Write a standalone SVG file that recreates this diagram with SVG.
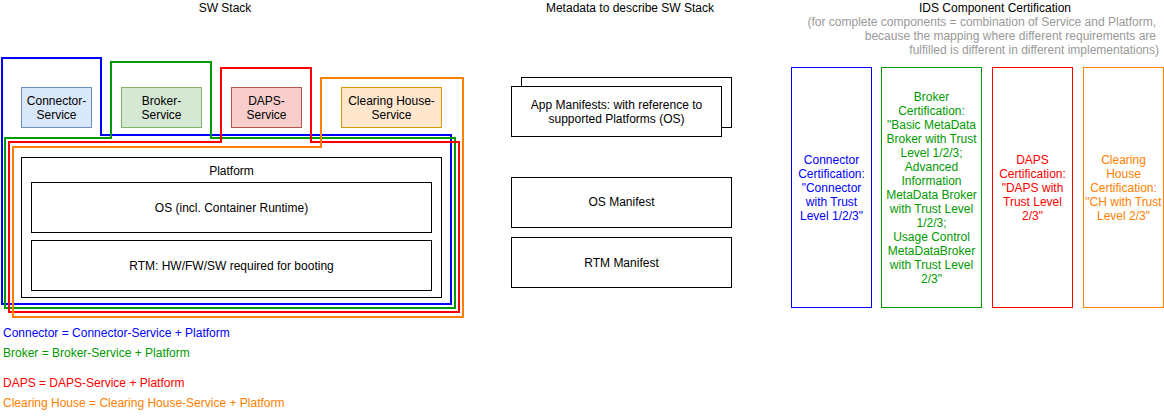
<svg xmlns="http://www.w3.org/2000/svg" width="1164" height="418" viewBox="0 0 1164 418">
<style>
text{font-family:"Liberation Sans",Arial,sans-serif;font-size:12px;fill:#000}
.c{text-anchor:middle}
.e{text-anchor:end}
.box{fill:#fff;stroke:#000;stroke-width:1}
.ol{fill:none;stroke-width:2;stroke-linejoin:miter}
.grey{fill:#999999}
.blue{fill:#0000FF}
.green{fill:#009900}
.red{fill:#FF0000}
.orange{fill:#FF8000}
.cert{fill:#fff;stroke-width:1}
</style>
<rect width="1164" height="418" fill="#fff"/>
<g id="titles">
<text class="c" x="225" y="12">SW Stack</text>
<text class="c" x="630" y="12">Metadata to describe SW Stack</text>
<text class="c" x="995" y="12">IDS Component Certification</text>
<text class="e grey" x="1156" y="26">(for complete components = combination of Service and Platform,</text>
<text class="e grey" x="1156" y="40">because the mapping where different requirements are</text>
<text class="e grey" x="1159" y="54">fulfilled is different in different implementations)</text>
</g>
<g id="connector-service">
<rect x="21.5" y="87.5" width="70" height="40" fill="#dae8fc" stroke="#6c8ebf"/>
<text class="c" x="56.5" y="105">Connector-</text>
<text class="c" x="56.5" y="119">Service</text>
</g>
<g id="broker-service">
<rect x="121.5" y="87.5" width="80" height="40" fill="#d5e8d4" stroke="#82b366"/>
<text class="c" x="161.5" y="105">Broker-</text>
<text class="c" x="161.5" y="119">Service</text>
</g>
<g id="daps-service">
<rect x="231.5" y="87.5" width="70" height="40" fill="#f8cecc" stroke="#b85450"/>
<text class="c" x="266.5" y="105">DAPS-</text>
<text class="c" x="266.5" y="119">Service</text>
</g>
<g id="ch-service">
<rect x="341.5" y="87.5" width="100" height="40" fill="#ffe6cc" stroke="#d79b00"/>
<text class="c" x="391.5" y="105">Clearing House-</text>
<text class="c" x="391.5" y="119">Service</text>
</g>
<g id="platform">
<rect class="box" x="21.5" y="157.5" width="420" height="140"/>
<text class="c" x="231.5" y="175">Platform</text>
</g>
<g id="os">
<rect class="box" x="31.5" y="182.5" width="400" height="50"/>
<text class="c" x="231.5" y="212">OS (incl. Container Runtime)</text>
</g>
<g id="rtm">
<rect class="box" x="31.5" y="240.5" width="400" height="50"/>
<text class="c" x="231.5" y="270">RTM: HW/FW/SW required for booting</text>
</g>
<g id="outlines">
<path id="connector-outline" class="ol" stroke="#0000FF" d="M2,58 L101,58 L101,135 L451,135 L451,304 L2,304 Z"/>
<path id="broker-outline" class="ol" stroke="#009900" d="M111,62 L211,62 L211,138 L455,138 L455,308 L5,308 L5,138 L111,138 Z"/>
<path id="daps-outline" class="ol" stroke="#FF0000" d="M221,68 L311,68 L311,142 L459,142 L459,312 L9,312 L9,142 L221,142 Z"/>
<path id="ch-outline" class="ol" stroke="#FF8000" d="M321,78 L463,78 L463,317 L13,317 L13,147 L321,147 Z"/>
</g>
<g id="app-manifests">
<rect class="box" x="521.5" y="77.5" width="210" height="50"/>
<rect class="box" x="511.5" y="86.5" width="210" height="50"/>
<text class="c" x="616.5" y="109">App Manifests: with reference to</text>
<text class="c" x="616.5" y="123">supported Platforms (OS)</text>
</g>
<g id="os-manifest">
<rect class="box" x="511.5" y="177.5" width="220" height="50"/>
<text class="c" x="621.5" y="206">OS Manifest</text>
</g>
<g id="rtm-manifest">
<rect class="box" x="511.5" y="237.5" width="220" height="50"/>
<text class="c" x="621.5" y="267">RTM Manifest</text>
</g>
<g id="connector-cert">
<rect class="cert" x="791.5" y="67.5" width="80" height="240" stroke="#0000FF"/>
<text class="c blue" x="831.5"><tspan x="831.5" y="164">Connector</tspan><tspan x="831.5" y="178">Certification:</tspan><tspan x="831.5" y="192">"Connector</tspan><tspan x="831.5" y="206">with Trust</tspan><tspan x="831.5" y="220">Level 1/2/3"</tspan></text>
</g>
<g id="broker-cert">
<rect class="cert" x="881.5" y="67.5" width="100" height="240" stroke="#009900"/>
<text class="c green" x="931.5"><tspan x="931.5" y="101">Broker</tspan><tspan x="931.5" y="115">Certification:</tspan><tspan x="931.5" y="129">"Basic MetaData</tspan><tspan x="931.5" y="143">Broker with Trust</tspan><tspan x="931.5" y="157">Level 1/2/3;</tspan><tspan x="931.5" y="171">Advanced</tspan><tspan x="931.5" y="185">Information</tspan><tspan x="931.5" y="199">MetaData Broker</tspan><tspan x="931.5" y="213">with Trust Level</tspan><tspan x="931.5" y="227">1/2/3;</tspan><tspan x="931.5" y="241">Usage Control</tspan><tspan x="931.5" y="255">MetaDataBroker</tspan><tspan x="931.5" y="269">with Trust Level</tspan><tspan x="931.5" y="283">2/3"</tspan></text>
</g>
<g id="daps-cert">
<rect class="cert" x="992.5" y="67.5" width="80" height="240" stroke="#FF0000"/>
<text class="c red" x="1032.5"><tspan x="1032.5" y="164">DAPS</tspan><tspan x="1032.5" y="178">Certification:</tspan><tspan x="1032.5" y="192">"DAPS with</tspan><tspan x="1032.5" y="206">Trust Level</tspan><tspan x="1032.5" y="220">2/3"</tspan></text>
</g>
<g id="ch-cert">
<rect class="cert" x="1083.5" y="67.5" width="80" height="240" stroke="#FF8000"/>
<text class="c orange" x="1123.5"><tspan x="1123.5" y="164">Clearing</tspan><tspan x="1123.5" y="178">House</tspan><tspan x="1123.5" y="192">Certification:</tspan><tspan x="1123.5" y="206">"CH with Trust</tspan><tspan x="1123.5" y="220">Level 2/3"</tspan></text>
</g>
<g id="legend">
<text class="blue" x="3" y="337">Connector = Connector-Service + Platform</text>
<text class="green" x="3" y="357">Broker = Broker-Service + Platform</text>
<text class="red" x="3" y="387">DAPS = DAPS-Service + Platform</text>
<text class="orange" x="3" y="407">Clearing House = Clearing House-Service + Platform</text>
</g>
</svg>
